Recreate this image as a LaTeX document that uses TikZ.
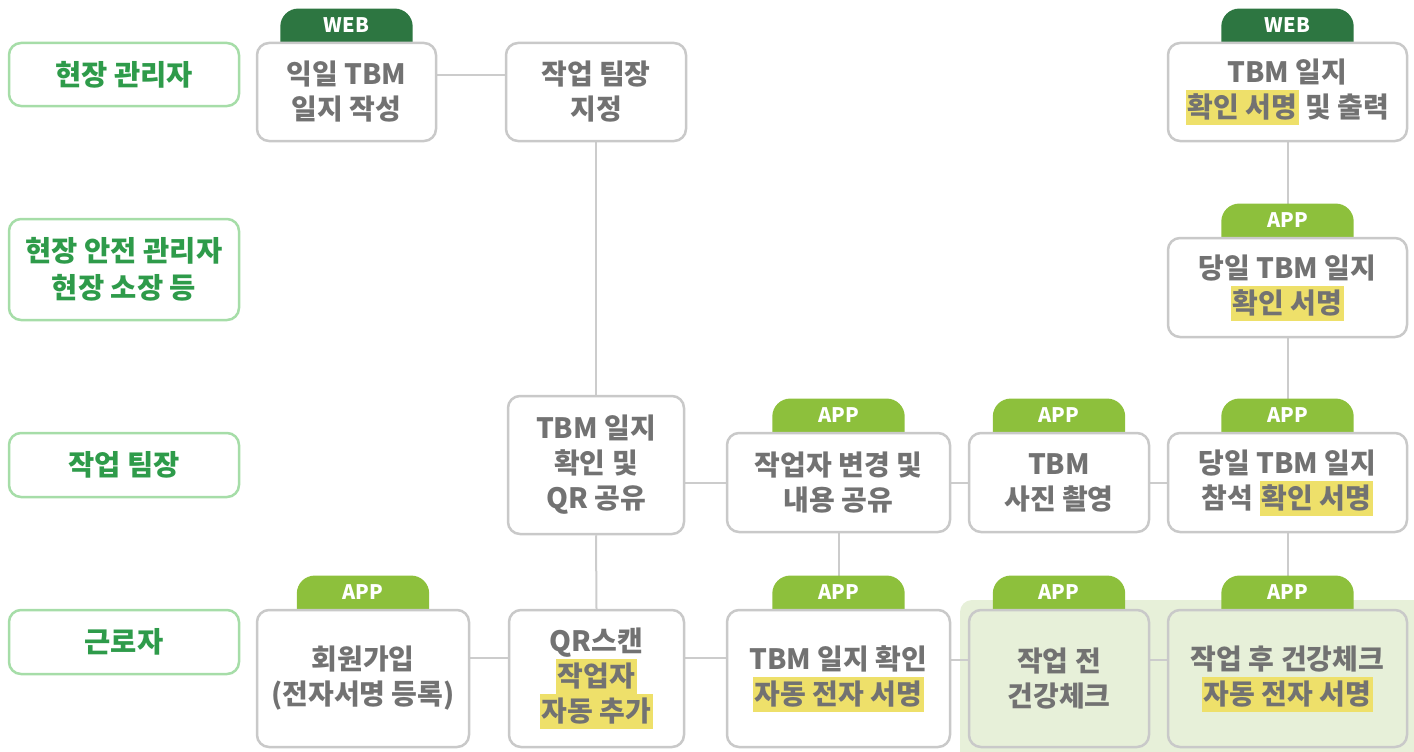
\documentclass[tikz,border=0pt]{standalone}
\usepackage{fontspec}
\setmainfont{Noto Sans CJK KR}
\usepackage{xcolor}
\definecolor{rolec}{HTML}{A6DDA8}
\definecolor{roletext}{HTML}{2E9B4A}
\definecolor{webc}{HTML}{2D7641}
\definecolor{appc}{HTML}{8DC03C}
\definecolor{boxc}{HTML}{C9C9C9}
\definecolor{txtc}{HTML}{727272}
\definecolor{hly}{HTML}{EEE06A}
\definecolor{panelc}{HTML}{E7F0D9}
\definecolor{linec}{HTML}{CCCCCC}
\newcommand\hlt[1]{{\setlength{\fboxsep}{0pt}\colorbox{hly}{\rule[-7.5pt]{0pt}{35pt}\hspace{2pt}#1\hspace{2pt}}}}
\pgfdeclarelayer{bg}
\pgfdeclarelayer{tabbg}
\pgfsetlayers{bg,tabbg,main}
\begin{document}
\begin{tikzpicture}[x=1pt,y=-1pt,
  role/.style={draw=rolec, line width=2.5pt, rounded corners=12pt, fill=white, text=roletext,
    font={\fontsize{28.5}{37}\selectfont\bfseries}, align=center, inner sep=0pt, minimum width=230pt},
  pbox/.style={draw=boxc, line width=2.5pt, rounded corners=12pt, fill=white, text=txtc,
    font={\fontsize{28}{35}\selectfont\bfseries}, align=center, inner sep=0pt},
  gbox/.style={pbox, fill=panelc},
  tabtxt/.style={minimum width=132pt, minimum height=32pt, inner sep=0pt, text=white,
    font={\fontsize{20}{21}\selectfont\bfseries}},
  link/.style={draw=linec, line width=2pt}
]
\useasboundingbox (0,0) rectangle (1414,752);

% role boxes
\node[role, minimum height=63pt] (r1) at (124,74.5) {현장 관리자};
\node[role, minimum height=101pt] (r2) at (124,269.5) {현장 안전 관리자\\현장 소장 등};
\node[role, minimum height=64pt] (r3) at (124,465) {작업 팀장};
\node[role, minimum height=64pt] (r4) at (124,642) {근로자};

% process boxes
\node[pbox, minimum width=179pt, minimum height=98pt] (b1) at (346.5,92) {익일 TBM\\일지 작성};
\node[pbox, minimum width=180pt, minimum height=98pt] (b2) at (596,92) {작업 팀장\\지정};
\node[pbox, minimum width=239pt, minimum height=98pt] (b3) at (1287.5,92) {TBM 일지\\\hlt{확인 서명} 및 출력};
\node[pbox, minimum width=239pt, minimum height=99pt] (b4) at (1287.5,287.5) {당일 TBM 일지\\\hlt{확인 서명}};
\node[pbox, minimum width=176pt, minimum height=138pt] (b5) at (596,465) {TBM 일지\\확인 및\\QR 공유};
\node[pbox, minimum width=223pt, minimum height=99pt] (b6) at (838.5,482.5) {작업자 변경 및\\내용 공유};
\node[pbox, minimum width=180pt, minimum height=99pt] (b7) at (1059,482.5) {TBM\\사진 촬영};
\node[pbox, minimum width=239pt, minimum height=99pt] (b8) at (1287.5,482.5) {당일 TBM 일지\\참석 \hlt{확인 서명}};
\node[pbox, minimum width=212pt, minimum height=137pt] (b9) at (363,678.5) {회원가입\\(전자서명 등록)};
\node[pbox, minimum width=175pt, minimum height=137pt] (b10) at (596.5,678.5) {QR스캔\\\hlt{작업자}\\\hlt{자동 추가}};
\node[pbox, minimum width=223pt, minimum height=137pt] (b11) at (838.5,678.5) {TBM 일지 확인\\\hlt{자동 전자 서명}};
\node[gbox, minimum width=180pt, minimum height=137pt] (b12) at (1059,678.5) {작업 전\\건강체크};
\node[gbox, minimum width=239pt, minimum height=137pt] (b13) at (1287.5,678.5) {작업 후 건강체크\\\hlt{자동 전자 서명}};

% tabs
\foreach \b in {b1,b3} {
  \node[tabtxt] (t-\b) at ([yshift=17pt]\b.north) {WEB};
  \begin{pgfonlayer}{tabbg}
    \fill[webc, rounded corners=18pt] (t-\b.north west) rectangle ([yshift=-20pt]t-\b.south east);
  \end{pgfonlayer}
}
\foreach \b in {b4,b6,b7,b8,b9,b11,b12,b13} {
  \node[tabtxt] (t-\b) at ([yshift=17pt]\b.north) {APP};
  \begin{pgfonlayer}{tabbg}
    \fill[appc, rounded corners=18pt] (t-\b.north west) rectangle ([yshift=-20pt]t-\b.south east);
  \end{pgfonlayer}
}

% panel and connectors
\begin{pgfonlayer}{bg}
  \fill[panelc, rounded corners=12pt] (960,600) rectangle (1425,775);
  \draw[link] ([yshift=17pt]b1.east) -- ([yshift=17pt]b2.west);
  \draw[link] (b2.south) -- (b5.north);
  \draw[link] (b5.east |- b6.west) -- (b6.west);
  \draw[link] (b6.east) -- (b7.west);
  \draw[link] (b7.east) -- (b8.west);
  \draw[link] (b5.south) -- (b10.north);
  \draw[link] ([yshift=21pt]b9.east) -- ([yshift=21pt]b10.west);
  \draw[link] ([yshift=21pt]b10.east) -- ([yshift=21pt]b11.west);
  \draw[link] ([yshift=19pt]b11.east) -- ([yshift=19pt]b12.west);
  \draw[link] ([yshift=19pt]b12.east) -- ([yshift=19pt]b13.west);
  \draw[link] (b6.south) -- (t-b11.north);
  \draw[link] (b8.south) -- (t-b13.north);
  \draw[link] (b4.south) -- (t-b8.north);
  \draw[link] (b3.south) -- (t-b4.north);
\end{pgfonlayer}
\end{tikzpicture}
\end{document}
